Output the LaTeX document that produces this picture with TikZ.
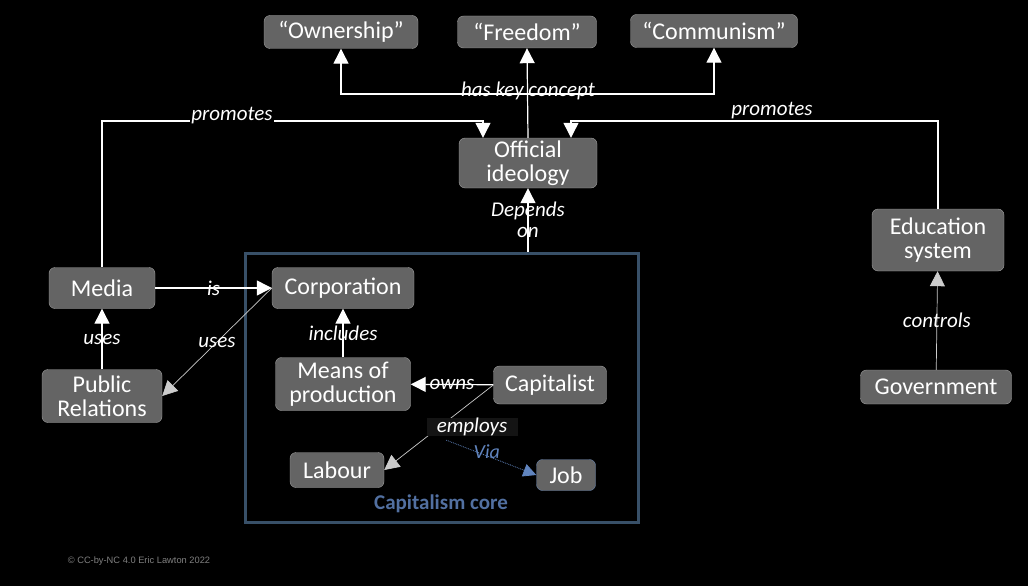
\documentclass[tikz,border=0pt]{standalone}
\usepackage{fontspec}
\setmainfont{Carlito}
\newfontfamily\notefont{Liberation Sans}
\usetikzlibrary{arrows.meta}
\definecolor{BoxClr}{RGB}{100,100,100}
\definecolor{CoreClr}{RGB}{56,80,104}
\definecolor{ViaClr}{RGB}{96,132,190}

\begin{document}
\begin{tikzpicture}[x=1pt,y=-1pt,
  box/.style={draw=gray!75,fill=BoxClr,rounded corners=6pt,text=white,align=center,
    inner sep=0pt,font=\fontsize{24}{24}\selectfont},
  link/.style={draw=white,line width=1.2pt,-{Triangle[width=15pt,length=15pt]}},
  thinlink/.style={link,draw=white!80!black,line width=0.7pt},
  lbl/.style={text=white,font=\fontsize{21}{21}\selectfont\itshape,align=center}]
\fill[black] (0,0) rectangle (1028,586);

% concepts
\node[box,minimum width=154pt,minimum height=33pt] (own) at (341,32) {“Ownership”};
\node[box,minimum width=139pt,minimum height=32pt] (free) at (527,32) {“Freedom”};
\node[box,minimum width=167pt,minimum height=33pt] (comm) at (714,31) {“Communism”};
\node[box,minimum width=138pt,minimum height=50pt] (ideo) at (528,163) {Official\\ideology};

\node[box,minimum width=106pt,minimum height=41pt] (media) at (102,288) {Media};
\node[box,minimum width=120pt,minimum height=53pt] (pr) at (102,396) {Public\\Relations};
\node[box,minimum width=132pt,minimum height=62pt] (edu) at (938,240) {Education\\system};
\node[box,minimum width=151pt,minimum height=34pt] (gov) at (936,387) {Government};

% capitalism core
\node[draw=CoreClr,line width=3pt,minimum width=393pt,minimum height=269pt] (core) at (441.5,387.5) {};
\node[text=ViaClr!85!black,font=\fontsize{21}{21}\selectfont\bfseries] (corelbl) at (441,504) {Capitalism core};
\node[box,minimum width=142pt,minimum height=41pt] (corp) at (343,288) {Corporation};
\node[box,minimum width=135pt,minimum height=53pt] (means) at (343,384) {Means of\\production};
\node[box,minimum width=113pt,minimum height=38pt] (cap) at (550,385) {Capitalist};
\node[box,minimum width=94pt,minimum height=35pt] (lab) at (337,470) {Labour};
\node[box,draw=ViaClr!70!gray,minimum width=59pt,minimum height=31pt] (job) at (566,475) {Job};

% links
\coordinate (pm) at (483,121);
\coordinate (pe) at (571,121);
\coordinate (hk) at (528,94);
\draw[link] (media.north) |- (pm) -- (pm |- ideo.north);
\node[lbl,fill=black,inner sep=1pt] at (232,116) {promotes};
\draw[link] (edu.north) |- (pe) -- (pe |- ideo.north);
\node[lbl,fill=black,inner sep=1pt] at (772,111) {promotes};

\draw[link] (ideo.north) -- (free.south);
\draw[link] (hk) -| (own.south);
\draw[link] (hk) -| (comm.south);
\node[lbl] at (528,91) {has key concept};

\draw[link] (ideo.south |- core.north) -- (ideo.south)
  node[lbl,midway] {Depends\\on};

\draw[link] (media) -- (corp) node[lbl,midway] {is};
\draw[link] (pr) -- (media) node[lbl,midway] {uses};
\draw[thinlink] (corp.west) -- (pr.east) node[lbl,midway] {uses};
\draw[link] (means) -- (corp) node[lbl,midway] {includes};
\draw[link] (cap) -- (means) node[lbl,midway] {owns};
\draw[thinlink] (cap.west) -- (lab.east);
\node[lbl,fill=black!92!white,minimum width=91pt,inner sep=0pt] (emp) at (472,427) {employs};
\draw[ViaClr,densely dotted,line width=0.8pt,-{Triangle[width=13pt,length=13pt]}]
  ([xshift=20pt,yshift=-4pt]emp.south west) -- (job.west)
  node[pos=0.45,yshift=4pt,text=ViaClr,font=\fontsize{20}{20}\selectfont\itshape] {Via};
\draw[thinlink] (gov) -- (edu) node[lbl,midway] {controls};

\node[text=gray,font=\notefont\fontsize{9.3}{10}\selectfont] (note) at (139,561) {© CC-by-NC 4.0 Eric Lawton 2022};
\end{tikzpicture}
\end{document}
